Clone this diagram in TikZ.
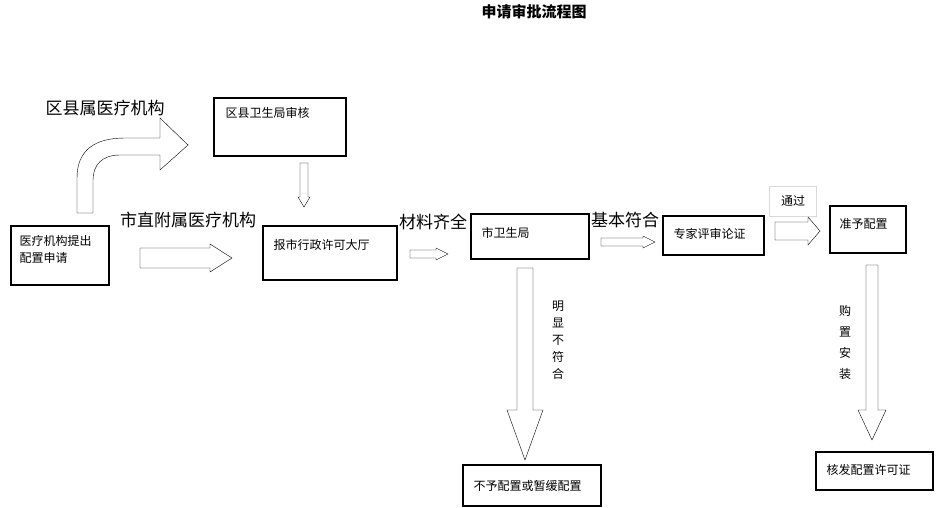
\documentclass[tikz,border=0pt]{standalone}
\usepackage{fontspec}
\setmainfont{Noto Sans CJK SC}
\usetikzlibrary{positioning}
% block arrows: start, end, centre line, half shaft, half head, head length
\newcommand{\rightblock}[6]{%
  \draw[blockarrow] (#1,#3-#4) -- (#2-#6,#3-#4) -- (#2-#6,#3-#5) -- (#2,#3)
    -- (#2-#6,#3+#5) -- (#2-#6,#3+#4) -- (#1,#3+#4) -- cycle;}
\newcommand{\downblock}[6]{%
  \draw[blockarrow] (#3-#4,#1) -- (#3-#4,#2-#6) -- (#3-#5,#2-#6) -- (#3,#2)
    -- (#3+#5,#2-#6) -- (#3+#4,#2-#6) -- (#3+#4,#1) -- cycle;}
\begin{document}
\begin{tikzpicture}
        [x=1pt,y=-1pt,
        steptext/.style={anchor=north west,font=\fontsize{12}{17}\selectfont,align=left},
        box/.style={draw=black,line width=1.3pt},
        blockarrow/.style={draw=black,thin,fill=white},
        flowlabel/.style={font=\fontsize{17}{19}\selectfont,inner sep=0pt}]

\useasboundingbox (0,0) rectangle (950,508);

% title
\node[font=\fontsize{15}{17}\selectfont\bfseries] (title) at (534,12) {申请审批流程图};

% boxes
\draw[box] (11,226) rectangle (109,285);
\node[steptext] (apply) at (16,232) {医疗机构提出\\配置申请};
\draw[box] (214,98) rectangle (346,156);
\node[steptext] (county) at (222,104) {区县卫生局审核};
\draw[box] (263,226) rectangle (397,280);
\node[steptext] (hall) at (270,236) {报市行政许可大厅};
\draw[box] (471,214) rectangle (589,259);
\node[steptext] (city) at (478,224) {市卫生局};
\draw[box] (663,216) rectangle (764,255);
\node[steptext] (expert) at (670,225) {专家评审论证};
\draw[box,line width=1.8pt] (830,206) rectangle (906,253);
\node[steptext] (grant) at (836,215) {准予配置};
\draw[box] (463,465) rectangle (601,506);
\node[steptext] (deny) at (470,477) {不予配置或暂缓配置};
\draw[box] (816,452) rectangle (933,490);
\node[steptext] (licence) at (823,461) {核发配置许可证};

% arrows
\draw[blockarrow] (77,213) -- (77,178) .. controls (77,150) and (95,138) .. (125,138)
  -- (160,138) -- (160,118) -- (188,145) -- (160,170) -- (160,155)
  -- (120,155) .. controls (102,155) and (93,165) .. (93,180) -- (93,213) -- cycle;
\rightblock{140}{232}{258}{10}{14}{22}
\downblock{163}{207}{304}{4}{6}{10}
\rightblock{410}{448}{254}{4}{6}{12}
\rightblock{601}{655}{242}{4}{6}{12}
\rightblock{775}{820}{231}{9}{14}{12}
\downblock{268}{460}{525}{8}{18}{50}
\downblock{265}{440}{872}{6}{14}{30}

% labels
\node[flowlabel] (countyorg) at (105,108) {区县属医疗机构};
\node[flowlabel] (cityorg) at (188,220) {市直附属医疗机构};
\node[flowlabel] (complete) at (433,222) {材料齐全};
\node[flowlabel] (basic) at (625,220) {基本符合};
\node[draw=black!15,fill=white,font=\fontsize{12}{14}\selectfont,minimum width=47pt,minimum height=30pt] (pass) at (793,201) {通过};
\node[font=\fontsize{12}{17}\selectfont,align=center] (unfit) at (558,340) {明\\显\\不\\符\\合};
\node[font=\fontsize{12}{21}\selectfont,align=center] (install) at (845,342) {购\\置\\安\\装};

\end{tikzpicture}
\end{document}
